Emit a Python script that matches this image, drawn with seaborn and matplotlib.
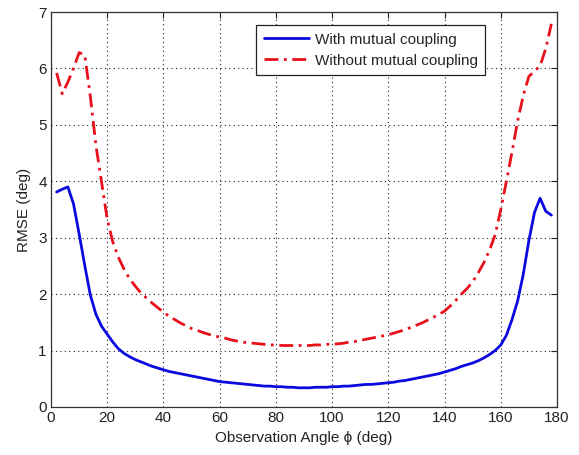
import numpy as np
import matplotlib
matplotlib.use("Agg")
import matplotlib.pyplot as plt
import seaborn as sns

# Observation angle grid (deg)
angles = np.arange(2, 179, 2)

# RMSE (deg) with mutual coupling compensated
rmse_with = [
    3.81, 3.86, 3.90, 3.60, 3.07, 2.51, 1.98, 1.64, 1.43, 1.29,
    1.15, 1.03, 0.95, 0.89, 0.84, 0.80, 0.76, 0.72, 0.69, 0.66,
    0.63, 0.61, 0.59, 0.57, 0.55, 0.53, 0.51, 0.49, 0.47, 0.45,
    0.44, 0.43, 0.42, 0.41, 0.40, 0.39, 0.38, 0.37, 0.37, 0.36,
    0.36, 0.35, 0.35, 0.34, 0.34, 0.34, 0.35, 0.35, 0.35, 0.36,
    0.36, 0.37, 0.37, 0.38, 0.39, 0.40, 0.40, 0.41, 0.42, 0.43,
    0.44, 0.46, 0.47, 0.49, 0.51, 0.53, 0.55, 0.57, 0.59, 0.62,
    0.65, 0.68, 0.72, 0.75, 0.78, 0.82, 0.87, 0.93, 1.00, 1.10,
    1.27, 1.55, 1.88, 2.35, 2.95, 3.45, 3.70, 3.47, 3.40,
]

# RMSE (deg) ignoring mutual coupling
rmse_without = [
    5.92, 5.55, 5.76, 6.00, 6.28, 6.24, 5.50, 4.63, 3.98, 3.33,
    2.92, 2.65, 2.44, 2.27, 2.14, 2.02, 1.93, 1.84, 1.76, 1.68,
    1.61, 1.55, 1.49, 1.44, 1.39, 1.36, 1.32, 1.29, 1.26, 1.24,
    1.22, 1.19, 1.17, 1.15, 1.14, 1.13, 1.12, 1.11, 1.10, 1.10,
    1.09, 1.09, 1.09, 1.09, 1.09, 1.09, 1.10, 1.10, 1.11, 1.11,
    1.12, 1.13, 1.15, 1.16, 1.18, 1.20, 1.22, 1.24, 1.26, 1.28,
    1.31, 1.34, 1.37, 1.41, 1.45, 1.49, 1.54, 1.59, 1.64, 1.70,
    1.79, 1.89, 2.00, 2.10, 2.22, 2.38, 2.56, 2.78, 3.05, 3.50,
    4.00, 4.52, 5.07, 5.52, 5.86, 5.95, 6.05, 6.35, 6.79,
]

series_labels = ["With mutual coupling", "Without mutual coupling"]
x_ticks = [0, 20, 40, 60, 80, 100, 120, 140, 160, 180]
y_ticks = [0, 1, 2, 3, 4, 5, 6, 7]

sns.set_style("white")
plt.rcParams["font.family"] = ["Liberation Sans", "DejaVu Sans"]
plt.rcParams["font.size"] = 11

fig = plt.figure(figsize=(5.79, 4.55), dpi=100)
fig.patch.set_facecolor("white")
ax = fig.add_axes([0.0881, 0.1055, 0.8739, 0.8681])

sns.lineplot(x=angles, y=rmse_with, ax=ax, color="#0a0ae0", linewidth=2.0,
             label=series_labels[0], errorbar=None)
sns.lineplot(x=angles, y=rmse_without, ax=ax, color="#e8101a", linewidth=2.0,
             linestyle=(0, (5, 2, 1, 2)), label=series_labels[1], errorbar=None)

ax.set_xlim(0, 180)
ax.set_ylim(0, 7)
ax.set_xticks(x_ticks)
ax.set_yticks(y_ticks)
ax.grid(True, linestyle=(0, (1, 3)), color="#222222", linewidth=0.8)
ax.tick_params(direction="in", length=4, width=0.8, top=True, right=True,
               labelsize=11, colors="#222222", pad=3)
for s in ax.spines.values():
    s.set_color("#333333")
    s.set_linewidth(0.9)

ax.set_xlabel("Observation Angle \u03d5 (deg)", fontsize=11, color="#222222", labelpad=4)
ax.set_ylabel("RMSE (deg)", fontsize=11, color="#222222", labelpad=5)

leg = ax.legend(loc="upper left", bbox_to_anchor=(0.405, 0.967), borderaxespad=0,
                fancybox=False, framealpha=1, edgecolor="#222222", fontsize=11,
                handlelength=3.0, handletextpad=0.35, borderpad=0.5, labelspacing=0.45)
leg.get_frame().set_linewidth(0.9)

fig.savefig("out.png", dpi=100, facecolor="white")
